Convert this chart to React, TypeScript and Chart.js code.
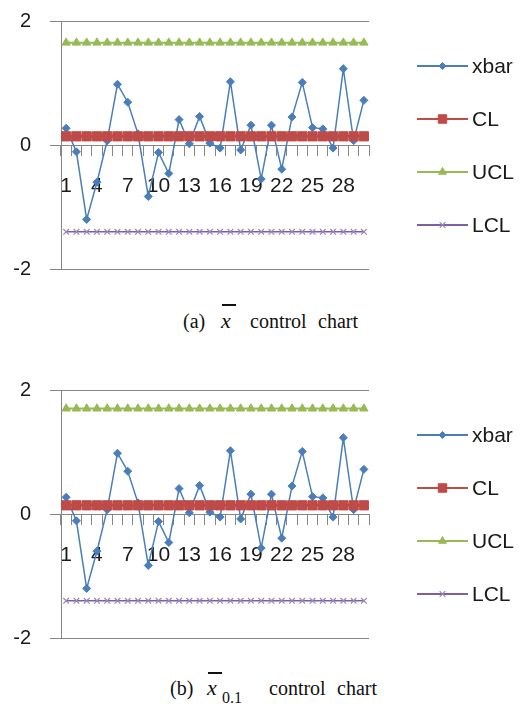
import React, { useEffect, useRef } from 'react';
import { Chart, registerables } from 'chart.js';
import { drawPoint } from 'chart.js/helpers';

Chart.register(...registerables);

// ---------- data ----------
const categories = ['1', '2', '3', '4', '5', '6', '7', '8', '9', '10', '11', '12', '13', '14', '15', '16', '17', '18', '19', '20', '21', '22', '23', '24', '25', '26', '27', '28', '29', '30'];
const xbarValues = [0.27, -0.11, -1.2, -0.6, 0.07, 0.98, 0.69, 0.18, -0.83, -0.12, -0.46, 0.41, 0.02, 0.46, 0.03, -0.05, 1.02, -0.08, 0.32, -0.55, 0.32, -0.39, 0.45, 1.01, 0.28, 0.26, -0.05, 1.23, 0.07, 0.72];
const clValues = [0.14, 0.14, 0.14, 0.14, 0.14, 0.14, 0.14, 0.14, 0.14, 0.14, 0.14, 0.14, 0.14, 0.14, 0.14, 0.14, 0.14, 0.14, 0.14, 0.14, 0.14, 0.14, 0.14, 0.14, 0.14, 0.14, 0.14, 0.14, 0.14, 0.14];
const uclValuesA = [1.65, 1.65, 1.65, 1.65, 1.65, 1.65, 1.65, 1.65, 1.65, 1.65, 1.65, 1.65, 1.65, 1.65, 1.65, 1.65, 1.65, 1.65, 1.65, 1.65, 1.65, 1.65, 1.65, 1.65, 1.65, 1.65, 1.65, 1.65, 1.65, 1.65];
const uclValuesB = [1.7, 1.7, 1.7, 1.7, 1.7, 1.7, 1.7, 1.7, 1.7, 1.7, 1.7, 1.7, 1.7, 1.7, 1.7, 1.7, 1.7, 1.7, 1.7, 1.7, 1.7, 1.7, 1.7, 1.7, 1.7, 1.7, 1.7, 1.7, 1.7, 1.7];
const lclValues = [-1.4, -1.4, -1.4, -1.4, -1.4, -1.4, -1.4, -1.4, -1.4, -1.4, -1.4, -1.4, -1.4, -1.4, -1.4, -1.4, -1.4, -1.4, -1.4, -1.4, -1.4, -1.4, -1.4, -1.4, -1.4, -1.4, -1.4, -1.4, -1.4, -1.4];
const seriesNames = ['xbar', 'CL', 'UCL', 'LCL'];
const yTickValues = [-2, 0, 2];
const xLabelEvery = 3;

// ---------- styling ----------
const AXIS_GRAY = '#868686';
const TEXT = '#1a1a1a';
const CHART_FONT = "'Liberation Sans', Arial, sans-serif";

const legendPlugin = {
  id: 'sideLegend',
  afterDraw(chart: any) {
    const { ctx, chartArea } = chart;
    ctx.save();
    chart.data.datasets.forEach((ds: any, i: number) => {
      const y = chartArea.top + 45 + i * 53;
      const x0 = chartArea.right + 48;
      const x1 = chartArea.right + 99;
      ctx.strokeStyle = ds.borderColor;
      ctx.lineWidth = 2;
      ctx.beginPath();
      ctx.moveTo(x0, y);
      ctx.lineTo(x1, y);
      ctx.stroke();
      ctx.fillStyle = ds.pointBackgroundColor;
      ctx.strokeStyle = ds.pointBorderColor;
      ctx.lineWidth = ds.pointBorderWidth;
      drawPoint(ctx, { pointStyle: ds.pointStyle, rotation: 0, radius: ds.legendRadius, borderWidth: ds.pointBorderWidth }, (x0 + x1) / 2, y);
      ctx.fillStyle = TEXT;
      ctx.font = `21px ${CHART_FONT}`;
      ctx.textBaseline = 'middle';
      ctx.textAlign = 'left';
      ctx.fillText(ds.label, x1 + 4, y + 1);
    });
    ctx.restore();
  },
};

function ControlChart({ ucl }: { ucl: number[] }) {
  const ref = useRef<HTMLCanvasElement>(null);
  useEffect(() => {
    const chart = new Chart(ref.current!, {
      type: 'line',
      data: {
        labels: categories,
        datasets: [
          {
            label: seriesNames[0], data: xbarValues, order: 4,
            borderColor: '#4A7EBB', backgroundColor: '#4A7EBB', borderWidth: 1.5,
            pointStyle: 'rectRot', pointRadius: 4, pointBackgroundColor: '#4A7EBB', pointBorderColor: '#4A7EBB', pointBorderWidth: 1,
            legendRadius: 3.5,
          } as any,
          {
            label: seriesNames[1], data: clValues, order: 3,
            borderColor: '#BE4B48', backgroundColor: '#BE4B48', borderWidth: 3,
            pointStyle: 'rect', pointRadius: 6.5, pointBackgroundColor: '#BE4B48', pointBorderColor: '#BE4B48', pointBorderWidth: 1,
            legendRadius: 6,
          } as any,
          {
            label: seriesNames[2], data: ucl, order: 2,
            borderColor: '#98B954', backgroundColor: '#98B954', borderWidth: 2,
            pointStyle: 'triangle', pointRadius: 4.8, pointBackgroundColor: '#98B954', pointBorderColor: '#98B954', pointBorderWidth: 1,
            legendRadius: 4.5,
          } as any,
          {
            label: seriesNames[3], data: lclValues, order: 1,
            borderColor: '#7D60A0', backgroundColor: '#7D60A0', borderWidth: 1.5,
            pointStyle: 'crossRot', pointRadius: 4, pointBackgroundColor: '#7D60A0', pointBorderColor: '#9C84BC', pointBorderWidth: 1.2,
            legendRadius: 4,
          } as any,
        ],
      },
      options: {
        responsive: false,
        animation: false,
        devicePixelRatio: 1,
        layout: { padding: { left: 0, top: 21, right: 155, bottom: 31 } },
        plugins: { legend: { display: false }, tooltip: { enabled: false } },
        scales: {
          x: {
            type: 'category',
            position: { y: 0 } as any,
            offset: true,
            grid: { offset: true, drawOnChartArea: false, drawTicks: true, tickLength: 10, color: AXIS_GRAY, lineWidth: 1 },
            border: { display: true, color: AXIS_GRAY, width: 1 },
            ticks: {
              autoSkip: false, maxRotation: 0, minRotation: 0, padding: 19,
              color: TEXT, font: { family: CHART_FONT, size: 21 },
              callback: (_v: any, i: number) => (i % xLabelEvery === 0 ? categories[i] : ''),
            },
          },
          y: {
            min: -2, max: 2,
            afterBuildTicks: (s: any) => { s.ticks = yTickValues.map((v) => ({ value: v })); },
            afterFit: (s: any) => { s.width = 61; s.paddingTop = 0; s.paddingBottom = 0; },
            grid: { color: AXIS_GRAY, lineWidth: 1, tickLength: 11, drawTicks: true },
            border: { display: true, color: AXIS_GRAY, width: 1 },
            ticks: { padding: 19, color: TEXT, font: { family: CHART_FONT, size: 20 } },
          },
        },
      },
      plugins: [legendPlugin],
    });
    return () => chart.destroy();
  }, [ucl]);
  return <canvas ref={ref} width={524} height={300} style={{ display: 'block' }} />;
}

const serif = "'Liberation Serif', 'Times New Roman', serif";

function Piece({ left, baseline, size = 20, italic = false, children }: any) {
  return (
    <span style={{ position: 'absolute', left, top: baseline - size * 0.8375, fontFamily: serif, fontSize: size, lineHeight: 1, fontStyle: italic ? 'italic' : 'normal', color: '#111', whiteSpace: 'pre' }}>
      {children}
    </span>
  );
}

function Bar({ left, top, width }: any) {
  return <div style={{ position: 'absolute', left, top, width, height: 1.5, background: '#111' }} />;
}

export default function App() {
  return (
    <div style={{ position: 'absolute', left: 0, top: 0, width: 524, height: 704, background: '#fff', overflow: 'hidden' }}>
      <div style={{ position: 'absolute', left: 0, top: 0 }}>
        <ControlChart ucl={uclValuesA} />
      </div>
      <Piece left={183} baseline={328}>(a)</Piece>
      <Piece left={221} baseline={328} size={22} italic>x</Piece>
      <Bar left={222} top={304} width={14} />
      <Piece left={250} baseline={328}>control</Piece>
      <Piece left={318} baseline={328}>chart</Piece>

      <div style={{ position: 'absolute', left: 0, top: 369 }}>
        <ControlChart ucl={uclValuesB} />
      </div>
      <Piece left={170} baseline={695}>(b)</Piece>
      <Piece left={207} baseline={695} size={22} italic>x</Piece>
      <Bar left={208} top={672} width={14} />
      <Piece left={222} baseline={703} size={16}>0.1</Piece>
      <Piece left={269} baseline={695}>control</Piece>
      <Piece left={337} baseline={695}>chart</Piece>
    </div>
  );
}
